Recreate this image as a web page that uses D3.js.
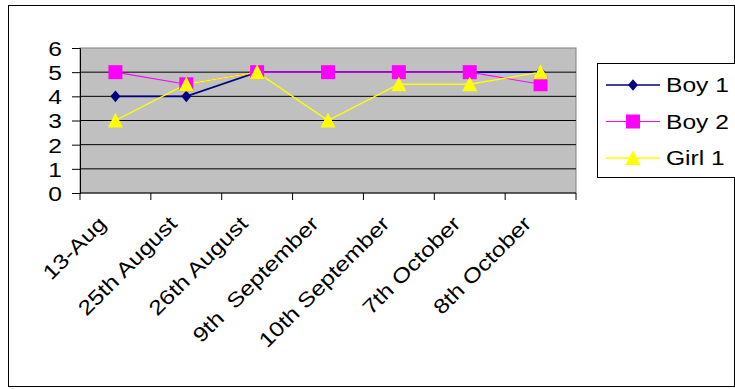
<!DOCTYPE html>
<html><head><meta charset="utf-8">
<script src="https://cdn.jsdelivr.net/npm/d3@7"></script>
<style>body{margin:0;background:#fff;}svg{display:block;font-family:Arial,"Liberation Sans",sans-serif;}</style>
</head><body>
<svg id="c" width="735" height="389"></svg>
<script>
const categories = ["13-Aug","25th August","26th August","9th  September","10th September","7th October","8th October"];
const boy1 = [4,4,5,5,5,5,5];
const boy2 = [5,4.5,5,5,5,5,4.5];
const girl1 = [3,4.5,5,3,4.5,4.5,5];
const yTicks = [0,1,2,3,4,5,6];
const seriesNames = ["Boy 1","Boy 2","Girl 1"];
const seriesColors = ["#000080","#FF00FF","#FFFF00"];
const seriesWidths = [1.6,1.1,1.4];

const shapes = {
  "Boy 1": "M0,-5.8L5,0L0,5.8L-5,0Z",
  "Boy 2": "M-7,-7H7V7H-7Z",
  "Girl 1": "M0,-7.8L7.5,7L-7.5,7Z"
};
const series = [boy1, boy2, girl1].map((v,i)=>({name:seriesNames[i], values:v, color:seriesColors[i], width:seriesWidths[i]}));

const svg = d3.select("#c");
const L=80, R=576, T=48, B=193;
svg.append("rect").attr("x",8.5).attr("y",5.5).attr("width",726).attr("height",381).attr("fill","#fff").attr("stroke","#000");

const x = d3.scaleBand().domain(categories).range([L,R]);
const y = d3.scaleLinear().domain([0,6]).range([B,T]);

svg.append("rect").attr("x",L).attr("y",T).attr("width",R-L).attr("height",B-T).attr("fill","#C0C0C0").attr("stroke","#808080");
svg.append("g").selectAll("line").data(yTicks.filter(t=>t>0&&t<6)).join("line")
  .attr("x1",L).attr("x2",R).attr("y1",d=>y(d)).attr("y2",d=>y(d)).attr("stroke","#000");

const ya = svg.append("g").attr("transform",`translate(${L},0)`).call(d3.axisLeft(y).tickValues(yTicks).tickSize(8).tickFormat(d3.format("d")));
ya.select(".domain").attr("stroke","#000");
ya.selectAll(".tick line").attr("stroke","#000");
ya.selectAll("text").attr("x",0).attr("dy","0.36em").attr("transform","translate(-18,0) scale(1.2,1)")
  .attr("font-size","20.5px").attr("fill","#000").attr("font-family","Arial,'Liberation Sans',sans-serif");

const xa = svg.append("g").attr("transform",`translate(0,${B})`);
xa.append("line").attr("x1",L).attr("x2",R).attr("stroke","#000");
const edges = categories.map(c=>x(c)).concat([R]);
xa.selectAll("line.t").data(edges).join("line").attr("class","t").attr("x1",d=>d).attr("x2",d=>d).attr("y1",0).attr("y2",7).attr("stroke","#000");
xa.selectAll("text").data(categories).join("text")
  .attr("transform",d=>`translate(${x(d)+x.bandwidth()/2-8},${32}) rotate(-45) scale(1.2,1)`)
  .attr("text-anchor","end").attr("font-size","20.5px").attr("fill","#000")
  .style("white-space","pre").text(d=>d);

const line = d3.line().x((d,i)=>x(categories[i])+x.bandwidth()/2).y(d=>y(d));
series.forEach(s=>{
  svg.append("path").attr("d",line(s.values)).attr("fill","none").attr("stroke",s.color).attr("stroke-width",s.width);
});
series.forEach(s=>{
  svg.append("g").selectAll("path").data(s.values).join("path")
    .attr("transform",(d,i)=>`translate(${x(categories[i])+x.bandwidth()/2},${y(d)})`)
    .attr("d",shapes[s.name]).attr("fill",s.color);
});

// legend
const lg = svg.append("g");
lg.append("rect").attr("x",597.5).attr("y",63.5).attr("width",145).attr("height",114).attr("fill","#fff").attr("stroke","#000");
const rows=[85,121.5,158];
series.forEach((s,i)=>{
  lg.append("line").attr("x1",606).attr("x2",660).attr("y1",rows[i]).attr("y2",rows[i]).attr("stroke",s.color).attr("stroke-width",s.width);
  lg.append("path").attr("transform",`translate(633,${rows[i]})`).attr("d",shapes[s.name]).attr("fill",s.color);
  lg.append("text").attr("transform",`translate(666,${rows[i]}) scale(1.2,1)`).attr("dy","0.36em").attr("font-size","20.5px").attr("fill","#000").text(s.name);
});
</script>
</body></html>
